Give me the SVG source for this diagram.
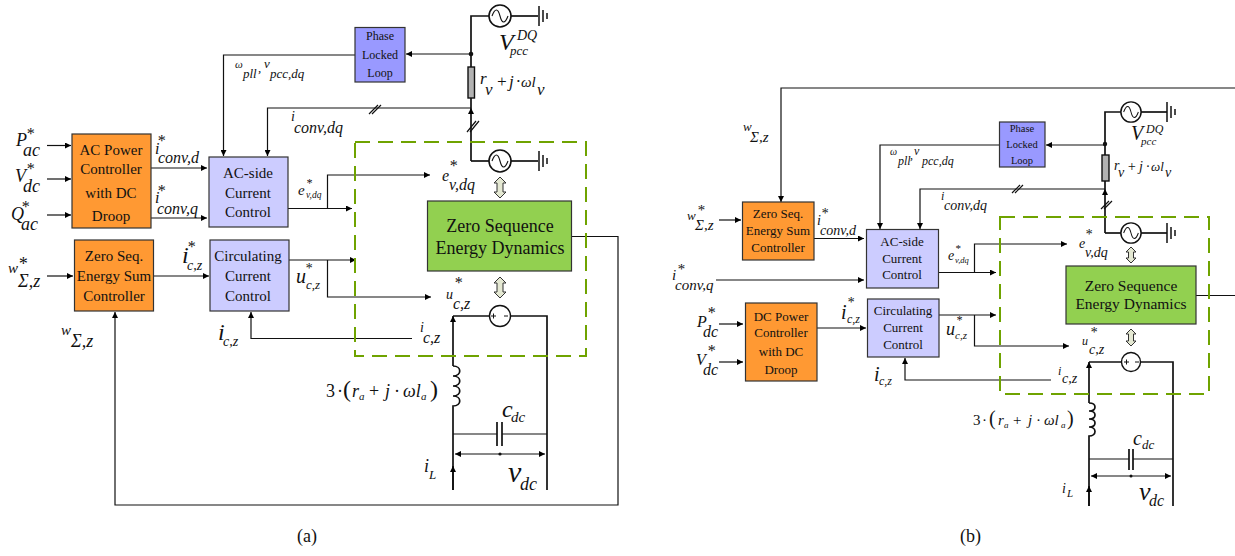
<svg xmlns="http://www.w3.org/2000/svg" xmlns:xlink="http://www.w3.org/1999/xlink" width="1235" height="556" viewBox="0 0 1235 556">
<style>
text{font-family:"Liberation Serif","Times New Roman",serif;fill:#111}
.l{font-style:italic;fill:#222}
.n{font-style:normal}
.b{text-anchor:middle}
.box{stroke:#333;stroke-width:1.2}
.or{fill:#ff9933}.lv{fill:#ccccff}.pl{fill:#9999ff}.gr{fill:#92d050}
.w{fill:none;stroke:#111;stroke-width:1.2}
.a{marker-end:url(#ah)}
.t{fill:none;stroke:#111;stroke-width:1.7}
.d{fill:none;stroke:#6fa300;stroke-width:2;stroke-dasharray:15 8}
.da{fill:#e4e8d2;stroke:#333;stroke-width:1}
</style>
<defs>
<marker id="ah" markerWidth="7" markerHeight="6" refX="6" refY="3" orient="auto" markerUnits="userSpaceOnUse"><path d="M0,0L6,3L0,6z" fill="#000"/></marker>
<marker id="as" markerWidth="7" markerHeight="6" refX="1" refY="3" orient="auto" markerUnits="userSpaceOnUse"><path d="M7,0L1,3L7,6z" fill="#000"/></marker>
<g id="acs"><circle r="11" fill="#fff" stroke="#111" stroke-width="1.6"/><path d="M-8,0C-5,-8 -2,-8 0,0S5,8 8,0" fill="none" stroke="#111" stroke-width="1.1"/></g>
<g id="gnd"><path d="M0,-10V10M4,-6V6M8,-3V3" fill="none" stroke="#111" stroke-width="1.5"/></g>
</defs>

<g id="connectors">
<path class="w a" d="M47,145.500H71"/><path class="w a" d="M47,179H71"/><path class="w a" d="M47,215H71"/>
<path class="w a" d="M151,168H207"/><path class="w a" d="M151,218H207"/>
<path class="w a" d="M47,276H73"/><path class="w a" d="M154,276H209"/>
<path class="w a" d="M288,208.500H352"/><path class="w a" d="M327.500,208.500V175H430"/>
<path class="w a" d="M289,260H356"/><path class="w a" d="M327.500,260V297H431"/>
<path class="w a" d="M412,338.500H251V312"/>
<path class="w a" d="M355,55H223.500V156"/>
<path class="w a" d="M471,108H267.500V156"/>
<path class="w" d="M369,114L378,105M372,114L381,105"/>
<path class="w a" d="M471,54H406"/>
<path class="t" d="M489,16H471V67"/><path class="t" d="M511,16H538"/>
<path class="t" d="M471,98V108"/><path class="t a" d="M471,161V108"/>
<path class="w" d="M467,132L476,121M470,132L479,121"/>
<path class="t" d="M489,161H471"/><path class="t" d="M511,161H538"/>
<circle cx="471" cy="54" r="2.300" fill="#111"/>
<path class="w a" d="M571,236.500H618V505H115V312"/>
<path class="t a" d="M453,366V316"/><path class="t" d="M453,316H490M510,316H547V490"/>
<path class="t" d="M453,366C462,366 462,376 453,376C462,376 462,386 453,386C462,386 462,396 453,396C462,396 462,406 453,406V490"/>
<path class="t a" d="M453,490V466"/>
<path class="w" d="M453,434H497M502,434H547"/>
<path class="t" d="M497,422V446M502,422V446"/>
<path class="w" d="M455,454H545" marker-start="url(#as)" marker-end="url(#ah)"/>
<circle cx="500" cy="454" r="1.600" fill="#111"/>
<path class="w a" d="M719,220H741"/><path class="w a" d="M814,238.500H864"/>
<path class="w a" d="M716,280H864"/>
<path class="w a" d="M719,324H743"/><path class="w a" d="M719,362H743"/>
<path class="w a" d="M817,328H866"/>
<path class="w a" d="M1235,88H781V202"/>
<path class="w a" d="M1000,145H880V229"/>
<path class="w a" d="M1105,189H920V229"/>
<path class="w" d="M1012,193L1020,185M1015,193L1023,185"/>
<path class="w a" d="M1105,145H1046"/>
<path class="w a" d="M938,272.500H996"/><path class="w a" d="M974.500,272.500V244H1067"/>
<path class="w a" d="M939,315H996"/><path class="w a" d="M974.500,315V346H1069"/>
<path class="w a" d="M1051,380H905V358"/>
<path class="t" d="M1121,112H1105V155"/><path class="t" d="M1141,112H1167"/>
<path class="t" d="M1105,181V189"/><path class="t a" d="M1105,233V189"/>
<path class="w" d="M1101,209L1109,201M1104,209L1112,201"/>
<path class="t" d="M1121,233H1105"/><path class="t" d="M1141,233H1167"/>
<circle cx="1105" cy="144" r="2.200" fill="#111"/>
<path class="w" d="M1196,295.500H1235"/>
<path class="t a" d="M1089,403V362"/><path class="t" d="M1089,362H1122M1140,362H1173V506"/>
<path class="t" d="M1089,403C1097,403 1097,411 1089,411C1097,411 1097,419 1089,419C1097,419 1097,427 1089,427C1097,427 1097,436 1089,436V506"/>
<path class="t a" d="M1089,506V486"/>
<path class="w" d="M1089,459H1129M1133,459H1173"/>
<path class="t" d="M1129,449V470M1133,449V470"/>
<path class="w" d="M1091,476H1171" marker-start="url(#as)" marker-end="url(#ah)"/>
<circle cx="1131" cy="476" r="1.500" fill="#111"/>
</g>

<g id="frame-a"><rect class="d" x="355" y="142" width="231" height="214"/></g>
<g id="frame-b"><rect class="d" x="1000" y="217" width="209" height="177"/></g>

<g id="ac-power-a"><rect class="box or" x="72" y="134" width="79" height="94"/><text class="b" font-size="15" x="111" y="155">AC Power</text><text class="b" font-size="15" x="111" y="174">Controller</text><text class="b" font-size="15" x="111" y="198">with DC</text><text class="b" font-size="15" x="111" y="221">Droop</text></g>
<g id="ac-side-a"><rect class="box lv" x="209" y="157" width="79" height="70"/><text class="b" font-size="15" x="248" y="178">AC-side</text><text class="b" font-size="15" x="248" y="198">Current</text><text class="b" font-size="15" x="248" y="217">Control</text></g>
<g id="zero-sum-a"><rect class="box or" x="74.500" y="240" width="79" height="71"/><text class="b" font-size="15" x="114" y="261">Zero Seq.</text><text class="b" font-size="15" x="114" y="281">Energy Sum</text><text class="b" font-size="15" x="114" y="301">Controller</text></g>
<g id="circ-a"><rect class="box lv" x="210" y="240" width="79" height="71"/><text class="b" font-size="15" x="248" y="261">Circulating</text><text class="b" font-size="15" x="248" y="281">Current</text><text class="b" font-size="15" x="248" y="301">Control</text></g>
<g id="pll-a"><rect class="box pl" x="355" y="27.500" width="50" height="54.500"/><text class="b" font-size="12" x="380" y="40">Phase</text><text class="b" font-size="12" x="380" y="59">Locked</text><text class="b" font-size="12" x="380" y="77">Loop</text></g>
<g id="zsd-a"><rect class="box gr" x="427.500" y="201" width="144" height="70"/><text class="b" font-size="18" x="500" y="232">Zero Sequence</text><text class="b" font-size="18" x="500" y="254">Energy Dynamics</text></g>
<g id="source-a1"><use xlink:href="#acs" x="500" y="16"/><use xlink:href="#gnd" x="539" y="16"/></g>
<g id="source-a2"><use xlink:href="#acs" x="500" y="161"/><use xlink:href="#gnd" x="539" y="161"/></g>
<g id="source-a3"><circle cx="500" cy="316" r="10.500" fill="#fff" stroke="#111" stroke-width="1.400"/><path d="M491,316h5M493.500,313.500v5M504,316h4" stroke="#111" fill="none"/></g>
<g id="res-a"><rect x="468" y="67" width="6.500" height="31" fill="#b2b2b2" stroke="#111" stroke-width="1.400"/></g>
<g id="swap-a"><path class="da" d="M500,177L506,183H503V192H506L500,198L494,192H497V183H494z"/><path class="da" d="M500,277L506,283H503V292H506L500,298L494,292H497V283H494z"/></g>

<g id="zero-sum-b"><rect class="box or" x="742.500" y="202" width="71.500" height="58"/><text class="b" font-size="13" x="778" y="218">Zero Seq.</text><text class="b" font-size="13" x="778" y="234.500">Energy Sum</text><text class="b" font-size="13" x="778" y="252">Controller</text></g>
<g id="ac-side-b"><rect class="box lv" x="866.500" y="229.500" width="72" height="58.500"/><text class="b" font-size="13" x="902" y="246">AC-side</text><text class="b" font-size="13" x="902" y="263">Current</text><text class="b" font-size="13" x="902" y="279">Control</text></g>
<g id="dc-power-b"><rect class="box or" x="745.500" y="303" width="71.500" height="78"/><text class="b" font-size="13" x="781" y="321">DC Power</text><text class="b" font-size="13" x="781" y="337">Controller</text><text class="b" font-size="13" x="781" y="356">with DC</text><text class="b" font-size="13" x="781" y="374">Droop</text></g>
<g id="circ-b"><rect class="box lv" x="867.500" y="299" width="71.500" height="58"/><text class="b" font-size="13" x="903" y="315">Circulating</text><text class="b" font-size="13" x="903" y="332">Current</text><text class="b" font-size="13" x="903" y="349">Control</text></g>
<g id="pll-b"><rect class="box pl" x="999.500" y="122" width="45.500" height="45"/><text class="b" font-size="10.500" x="1022" y="132">Phase</text><text class="b" font-size="10.500" x="1022" y="148">Locked</text><text class="b" font-size="10.500" x="1022" y="164">Loop</text></g>
<g id="zsd-b"><rect class="box gr" x="1066" y="266" width="130" height="58"/><text class="b" font-size="15.500" x="1131" y="291">Zero Sequence</text><text class="b" font-size="15.500" x="1131" y="309">Energy Dynamics</text></g>
<g id="source-b1"><use xlink:href="#acs" transform="translate(1131 112) scale(.92)"/><use xlink:href="#gnd" x="1167" y="112"/></g>
<g id="source-b2"><use xlink:href="#acs" transform="translate(1131 233) scale(.92)"/><use xlink:href="#gnd" x="1167" y="233"/></g>
<g id="source-b3"><circle cx="1131" cy="362" r="9.500" fill="#fff" stroke="#111" stroke-width="1.400"/><path d="M1124,362h5M1126.500,359.500v5M1135,362h4" stroke="#111" fill="none"/></g>
<g id="res-b"><rect x="1102" y="155" width="7" height="26" fill="#b2b2b2" stroke="#111" stroke-width="1.400"/></g>
<g id="swap-b"><path class="da" d="M1131,247L1136,252H1133.500V258H1136L1131,263L1126,258H1128.500V252H1126z"/><path class="da" d="M1131,329L1136,334H1133.500V341H1136L1131,346L1126,341H1128.500V334H1126z"/></g>

<g id="labels-a" class="l">
<text font-size="18"><tspan x="16" y="146">P</tspan><tspan x="26" y="139" font-size="16">*</tspan><tspan x="23" y="156">ac</tspan></text>
<text font-size="18"><tspan x="15" y="182">V</tspan><tspan x="26" y="174" font-size="16">*</tspan><tspan x="23" y="192">dc</tspan></text>
<text font-size="18"><tspan x="11" y="220">Q</tspan><tspan x="21" y="212" font-size="16">*</tspan><tspan x="21" y="230">ac</tspan></text>
<text font-size="16"><tspan x="155" y="154">i</tspan><tspan x="157" y="146">*</tspan><tspan x="158" y="163">conv,d</tspan></text>
<text font-size="16"><tspan x="155" y="203">i</tspan><tspan x="157" y="196">*</tspan><tspan x="157" y="214">conv,q</tspan></text>
<text font-size="15"><tspan x="298" y="195">e</tspan><tspan x="306" y="187" font-size="12">*</tspan><tspan x="306" y="198" font-size="9.500">v,dq</tspan></text>
<text font-size="18"><tspan x="8" y="273" font-size="15">w</tspan><tspan x="18" y="270">*</tspan><tspan x="18" y="287">Σ,z</tspan></text>
<text font-size="18"><tspan x="61" y="335" font-size="15">w</tspan><tspan x="71" y="347">Σ,z</tspan></text>
<text font-size="24"><tspan x="182" y="263">i</tspan><tspan x="187" y="252" font-size="16">*</tspan><tspan x="187" y="270" font-size="14">c,z</tspan></text>
<text font-size="24"><tspan x="218" y="340">i</tspan><tspan x="223" y="346" font-size="14">c,z</tspan></text>
<text font-size="20"><tspan x="296" y="283">u</tspan><tspan x="305" y="273" font-size="14">*</tspan><tspan x="306" y="289" font-size="13">c,z</tspan></text>
<text font-size="13"><tspan x="235" y="68" font-size="11">ω</tspan><tspan x="243" y="78">pll</tspan><tspan x="258" y="72">,</tspan><tspan x="264" y="68">v</tspan><tspan x="270" y="78">pcc,dq</tspan></text>
<text font-size="16"><tspan x="291" y="121" font-size="14">i</tspan><tspan x="294" y="133">conv,dq</tspan></text>
<text font-size="24"><tspan x="499" y="50">V</tspan><tspan x="517" y="40" font-size="14">DQ</tspan><tspan x="510" y="55" font-size="13">pcc</tspan></text>
<text font-size="17"><tspan x="480" y="84">r</tspan><tspan x="485" y="95">v</tspan><tspan x="496" y="87">+</tspan><tspan x="509" y="87">j</tspan><tspan x="516" y="87">·</tspan><tspan x="521" y="87" font-size="15">ωl</tspan><tspan x="537" y="95">v</tspan></text>
<text font-size="16"><tspan x="442" y="181">e</tspan><tspan x="449" y="171">*</tspan><tspan x="449" y="190">v,dq</tspan></text>
<text font-size="16"><tspan x="446" y="299" font-size="14">u</tspan><tspan x="454" y="288">*</tspan><tspan x="453" y="309">c,z</tspan></text>
<text font-size="16"><tspan x="420" y="332" font-size="14">i</tspan><tspan x="423" y="343">c,z</tspan></text>
<text font-size="18"><tspan x="326" y="397" class="n">3</tspan><tspan x="337" y="397" class="n">·</tspan><tspan x="343" y="397" class="n" font-size="24">(</tspan><tspan x="352" y="397">r</tspan><tspan x="359" y="400" font-size="11">a</tspan><tspan x="369" y="397" class="n">+</tspan><tspan x="385" y="397">j</tspan><tspan x="394" y="397" class="n">·</tspan><tspan x="403" y="397">ωl</tspan><tspan x="421" y="400" font-size="11">a</tspan><tspan x="430" y="397" class="n" font-size="24">)</tspan></text>
<text font-size="24"><tspan x="502" y="417">c</tspan><tspan x="511" y="422" font-size="15">dc</tspan></text>
<text font-size="30"><tspan x="508" y="482">v</tspan><tspan x="520" y="490" font-size="18">dc</tspan></text>
<text font-size="18"><tspan x="424" y="472">i</tspan><tspan x="429" y="479" font-size="13">L</tspan></text>
</g>
<g id="labels-b" class="l">
<text font-size="15"><tspan x="743" y="131" font-size="13">w</tspan><tspan x="750" y="142">Σ,z</tspan></text>
<text font-size="15"><tspan x="687" y="220" font-size="13">w</tspan><tspan x="697" y="215">*</tspan><tspan x="695" y="230">Σ,z</tspan></text>
<text font-size="14"><tspan x="817" y="225">i</tspan><tspan x="821" y="218">*</tspan><tspan x="820" y="235">conv,d</tspan></text>
<text font-size="15"><tspan x="672" y="280">i</tspan><tspan x="677" y="274">*</tspan><tspan x="675" y="290">conv,q</tspan></text>
<text font-size="12"><tspan x="890" y="155" font-size="10">ω</tspan><tspan x="898" y="165">pll</tspan><tspan x="910" y="159">,</tspan><tspan x="914" y="155">v</tspan><tspan x="922" y="165">pcc,dq</tspan></text>
<text font-size="14"><tspan x="941" y="200" font-size="12">i</tspan><tspan x="944" y="210">conv,dq</tspan></text>
<text font-size="14"><tspan x="948" y="260">e</tspan><tspan x="955" y="252" font-size="11">*</tspan><tspan x="955" y="263" font-size="8.500">v,dq</tspan></text>
<text font-size="16"><tspan x="697" y="327">P</tspan><tspan x="707" y="318">*</tspan><tspan x="703" y="337">dc</tspan></text>
<text font-size="16"><tspan x="696" y="365">V</tspan><tspan x="707" y="356">*</tspan><tspan x="703" y="375">dc</tspan></text>
<text font-size="20"><tspan x="841" y="319">i</tspan><tspan x="847" y="307" font-size="14">*</tspan><tspan x="847" y="323" font-size="12">c,z</tspan></text>
<text font-size="18"><tspan x="946" y="335">u</tspan><tspan x="956" y="324" font-size="12">*</tspan><tspan x="955" y="339" font-size="11">c,z</tspan></text>
<text font-size="20"><tspan x="874" y="381">i</tspan><tspan x="879" y="385" font-size="12">c,z</tspan></text>
<text font-size="14"><tspan x="1079" y="248">e</tspan><tspan x="1085" y="239">*</tspan><tspan x="1085" y="257">v,dq</tspan></text>
<text font-size="14"><tspan x="1082" y="345" font-size="12">u</tspan><tspan x="1090" y="337">*</tspan><tspan x="1089" y="354">c,z</tspan></text>
<text font-size="14"><tspan x="1058" y="375" font-size="12">i</tspan><tspan x="1062" y="383">c,z</tspan></text>
<text font-size="15"><tspan x="973" y="425" class="n">3</tspan><tspan x="982" y="425" class="n">·</tspan><tspan x="989" y="425" class="n" font-size="20">(</tspan><tspan x="998" y="425">r</tspan><tspan x="1004" y="428" font-size="9">a</tspan><tspan x="1013" y="425" class="n">+</tspan><tspan x="1028" y="425">j</tspan><tspan x="1036" y="425" class="n">·</tspan><tspan x="1044" y="425">ωl</tspan><tspan x="1061" y="428" font-size="9">a</tspan><tspan x="1067" y="425" class="n" font-size="20">)</tspan></text>
<text font-size="20"><tspan x="1133" y="445">c</tspan><tspan x="1142" y="449" font-size="13">dc</tspan></text>
<text font-size="26"><tspan x="1139" y="500">v</tspan><tspan x="1149" y="506" font-size="16">dc</tspan></text>
<text font-size="14"><tspan x="1062" y="493">i</tspan><tspan x="1067" y="497" font-size="11">L</tspan></text>
<text font-size="20"><tspan x="1131" y="140">V</tspan><tspan x="1146" y="133" font-size="12">DQ</tspan><tspan x="1141" y="145" font-size="11">pcc</tspan></text>
<text font-size="14"><tspan x="1114" y="170">r</tspan><tspan x="1118" y="177">v</tspan><tspan x="1127" y="171">+</tspan><tspan x="1139" y="171">j</tspan><tspan x="1146" y="171">·</tspan><tspan x="1151" y="171" font-size="13">ωl</tspan><tspan x="1165" y="177">v</tspan></text>
</g>
<g id="captions">
<text font-size="18" x="297" y="542">(a)</text>
<text font-size="18" x="960" y="542">(b)</text>
</g>
</svg>
